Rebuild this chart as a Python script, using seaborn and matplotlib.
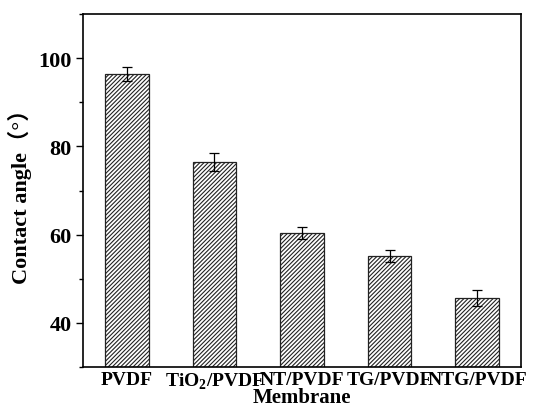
import matplotlib
matplotlib.use("Agg")
import matplotlib.pyplot as plt
import seaborn as sns
import pandas as pd
from matplotlib.ticker import MultipleLocator

membranes = ["PVDF", r"TiO$_\mathbf{2}$/PVDF", "NT/PVDF", "TG/PVDF", "NTG/PVDF"]
angles = [96.4, 76.5, 60.4, 55.2, 45.7]
errors = [1.6, 2.1, 1.4, 1.3, 1.85]

sns.set_theme(style="ticks")
plt.rcParams["font.family"] = ["Liberation Serif", "Noto Sans CJK SC"]
plt.rcParams["font.weight"] = "bold"
plt.rcParams["text.color"] = "black"
plt.rcParams["axes.labelcolor"] = "black"
plt.rcParams["xtick.color"] = "black"
plt.rcParams["ytick.color"] = "black"
plt.rcParams["mathtext.fontset"] = "custom"
plt.rcParams["mathtext.rm"] = "Liberation Serif:bold"
plt.rcParams["mathtext.bf"] = "Liberation Serif:bold"
plt.rcParams["hatch.linewidth"] = 0.8
plt.rcParams["hatch.color"] = "black"

df = pd.DataFrame({"Membrane": membranes, "Angle": angles})

fig = plt.figure(figsize=(5.44, 4.10), dpi=100)
ax = fig.add_axes([0.1526, 0.1024, 0.8051, 0.861])
sns.barplot(data=df, x="Membrane", y="Angle", ax=ax, width=0.5,
            color="white", edgecolor="#222222", linewidth=0.9, hatch="////////",
            errorbar=None)
ax.errorbar(range(len(angles)), angles, yerr=errors, fmt="none",
            ecolor="black", elinewidth=0.9, capsize=3.3, capthick=0.9)

ax.set_ylim(30, 110)
ax.set_xlim(-0.5, 4.5)
ax.yaxis.set_minor_locator(MultipleLocator(10))
ax.set_yticks([40, 60, 80, 100])
ax.tick_params(axis="y", which="major", length=5, width=1, labelsize=16, direction="out", pad=3)
ax.tick_params(axis="y", which="minor", length=3, width=1, direction="out")
ax.tick_params(axis="x", length=0, labelsize=14, pad=3)
for lab in ax.get_xticklabels() + ax.get_yticklabels():
    lab.set_fontweight("bold")
for s in ax.spines.values():
    s.set_linewidth(1.2)
    s.set_color("black")
ax.set_xlabel("Membrane", fontsize=15, fontweight="bold", labelpad=-3)
ax.set_ylabel("Contact angle（°）", fontsize=16, fontweight="bold", labelpad=5)

fig.savefig("out.png", dpi=100)
